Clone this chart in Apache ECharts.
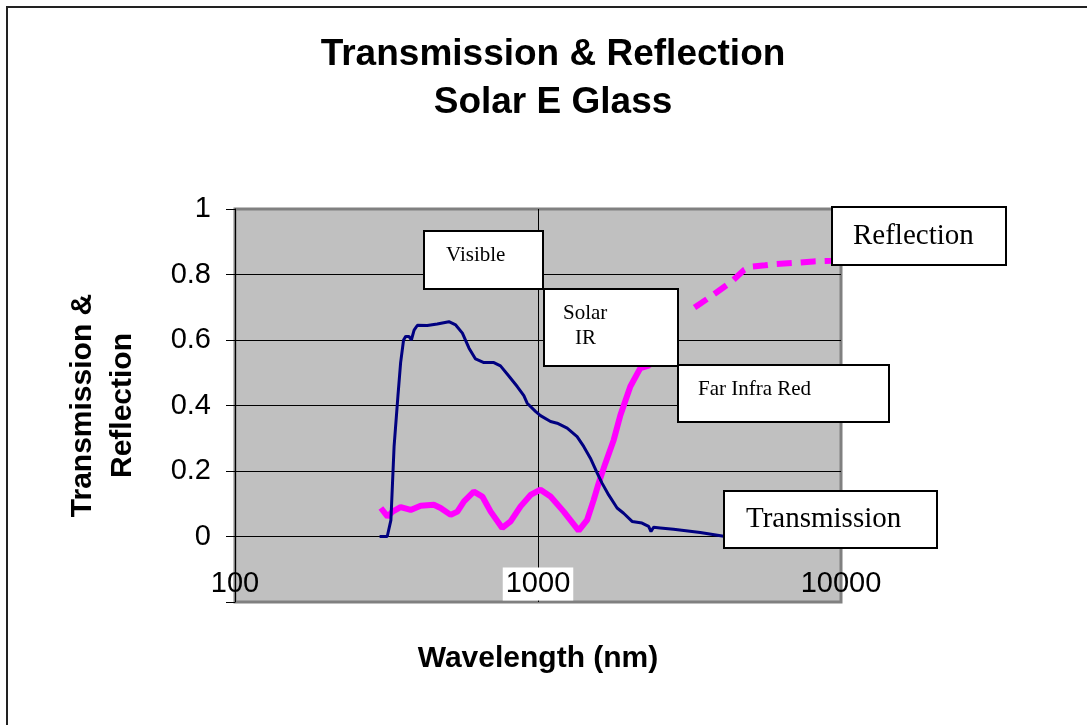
<!DOCTYPE html>
<html>
<head>
<meta charset="utf-8">
<title>Transmission & Reflection - Solar E Glass</title>
<script src="https://cdn.jsdelivr.net/npm/echarts@6/dist/echarts.min.js"></script>
<style>
  html, body { margin: 0; padding: 0; background: #fff; }
  #chart { width: 1087px; height: 725px; }
</style>
</head>
<body>
<div id="chart"></div>
<script>
  // wavelength (nm) and transmission fraction
  const transWl = [300, 318, 327, 335, 345, 352, 360, 366, 375, 382, 390, 400, 431, 465, 508, 535, 563, 592, 622, 663,
    715, 752, 801, 854, 898, 921, 981, 1019, 1100, 1157, 1248, 1346, 1415, 1489, 1567, 1627, 1711, 1824, 1917, 2044,
    2204, 2318, 2360, 2407, 2532, 2802, 3431, 4150];
  const transVal = [0, 0, 0.05, 0.275, 0.43, 0.53, 0.6, 0.611, 0.611, 0.6, 0.63, 0.645, 0.644, 0.649, 0.656, 0.646, 0.621, 0.575, 0.542, 0.531,
    0.531, 0.521, 0.49, 0.458, 0.43, 0.407, 0.382, 0.369, 0.351, 0.346, 0.331, 0.305, 0.275, 0.239, 0.194, 0.163, 0.127, 0.087, 0.071, 0.046,
    0.041, 0.031, 0.015, 0.028, 0.026, 0.022, 0.012, 0];

  // reflection, measured part (solid)
  const reflWl = [303, 319, 331, 352, 380, 410, 453, 477, 515, 542, 570, 614, 655, 698, 762, 812, 876, 945, 1019, 1100,
    1216, 1362, 1453, 1527, 1586, 1669, 1778, 1870, 2017, 2176, 2318, 2400];
  const reflVal = [0.087, 0.061, 0.076, 0.09, 0.081, 0.094, 0.097, 0.087, 0.066, 0.076, 0.107, 0.137, 0.122, 0.076, 0.026, 0.046, 0.092, 0.127, 0.143, 0.122,
    0.076, 0.018, 0.051, 0.112, 0.163, 0.224, 0.295, 0.37, 0.458, 0.514, 0.522, 0.54];

  // reflection, far infra red part (dashed)
  const farWl = [3286, 3653, 4364, 4790, 5016, 5618, 6061, 7145, 8106, 9320, 10000];
  const farVal = [0.699, 0.728, 0.779, 0.814, 0.824, 0.828, 0.832, 0.836, 0.84, 0.842, 0.845];

  const xTicks = [100, 1000, 10000];

  const pairs = (xs, ys) => xs.map((x, i) => [x, ys[i]]);

  const sans = '"Liberation Sans", Arial, sans-serif';
  const serif = '"Liberation Serif", "Times New Roman", serif';

  // white note boxes drawn over the plot
  const box = (x, y, w, h) => ({
    type: 'rect', z: 100,
    shape: { x: x, y: y, width: w, height: h },
    style: { fill: '#fff', stroke: '#000', lineWidth: 2 }
  });
  const note = (x, y, text, size) => ({
    type: 'text', z: 101, x: x, y: y,
    style: { text: text, fill: '#000', fontSize: size, fontFamily: serif, verticalAlign: 'middle' }
  });

  const chart = echarts.init(document.getElementById('chart'));

  const option = {
    animation: false,
    backgroundColor: '#fff',
    title: {
      text: 'Transmission & Reflection\nSolar E Glass',
      left: 553,
      textAlign: 'center',
      top: 31,
      padding: 0,
      textStyle: { fontSize: 37, fontWeight: 'bold', fontFamily: sans, color: '#000', lineHeight: 48 }
    },
    grid: {
      left: 235, right: 246, top: 209, bottom: 123,
      outerBoundsMode: 'none',
      containLabel: false,
      show: true,
      backgroundColor: '#c0c0c0',
      borderColor: '#808080',
      borderWidth: 3
    },
    xAxis: {
      type: 'log',
      logBase: 10,
      min: xTicks[0],
      max: xTicks[xTicks.length - 1],
      name: 'Wavelength (nm)',
      nameLocation: 'middle',
      nameGap: 57,
      nameTextStyle: { fontSize: 30, fontWeight: 'bold', fontFamily: sans, color: '#000', verticalAlign: 'middle' },
      axisLine: { show: false, onZero: false },
      axisTick: { show: false },
      axisLabel: {
        inside: true,
        margin: 3,
        formatter: function (v) {
          const n = Math.round(v);
          return n === 1000 ? '{w|' + n + '}' : '{n|' + n + '}';
        },
        rich: {
          w: { fontSize: 29, fontFamily: sans, color: '#000', backgroundColor: '#fff', lineHeight: 30, padding: [2, 3] },
          n: { fontSize: 29, fontFamily: sans, color: '#000', lineHeight: 30, padding: [2, 3] }
        }
      },
      splitLine: { show: true, showMaxLine: false, lineStyle: { color: '#000', width: 1 } }
    },
    yAxis: {
      type: 'value',
      min: -0.2,
      max: 1,
      interval: 0.2,
      name: 'Transmission &\nReflection',
      nameLocation: 'middle',
      nameGap: 132,
      nameTextStyle: { fontSize: 30, fontWeight: 'bold', fontFamily: sans, color: '#000', lineHeight: 40, verticalAlign: 'middle' },
      axisLine: { show: true, lineStyle: { color: '#000', width: 1 } },
      axisTick: { show: true, length: 9, lineStyle: { color: '#000' } },
      axisLabel: {
        margin: 24,
        fontSize: 29,
        fontFamily: sans,
        color: '#000',
        formatter: function (v) { return v < -0.01 ? '' : String(+v.toFixed(1)); }
      },
      splitLine: { show: true, showMaxLine: false, showMinLine: false, lineStyle: { color: '#000', width: 1 } }
    },
    series: [
      {
        name: 'Reflection',
        type: 'line',
        showSymbol: false,
        data: pairs(reflWl, reflVal),
        lineStyle: { color: '#ff00ff', width: 6 },
        itemStyle: { color: '#ff00ff' }
      },
      {
        name: 'Reflection (far IR)',
        type: 'line',
        showSymbol: false,
        data: pairs(farWl, farVal),
        lineStyle: { color: '#ff00ff', width: 6, type: [15, 9] },
        itemStyle: { color: '#ff00ff' }
      },
      {
        name: 'Transmission',
        type: 'line',
        showSymbol: false,
        data: pairs(transWl, transVal),
        lineStyle: { color: '#000080', width: 3 },
        itemStyle: { color: '#000080' }
      }
    ],
    graphic: [
      // outer frame
      { type: 'rect', z: 0, shape: { x: 7, y: 7, width: 1200, height: 800 }, style: { fill: 'none', stroke: '#222', lineWidth: 2 } },
      box(424, 231, 119, 58), note(446, 255, 'Visible', 21),
      box(544, 289, 134, 77), note(563, 313, 'Solar', 21), note(575, 338, 'IR', 21),
      box(678, 365, 211, 57), note(698, 389, 'Far Infra Red', 21),
      box(832, 207, 174, 58), note(853, 236, 'Reflection', 29),
      box(724, 491, 213, 57), note(746, 519, 'Transmission', 29)
    ]
  };

  chart.setOption(option);
</script>
</body>
</html>
